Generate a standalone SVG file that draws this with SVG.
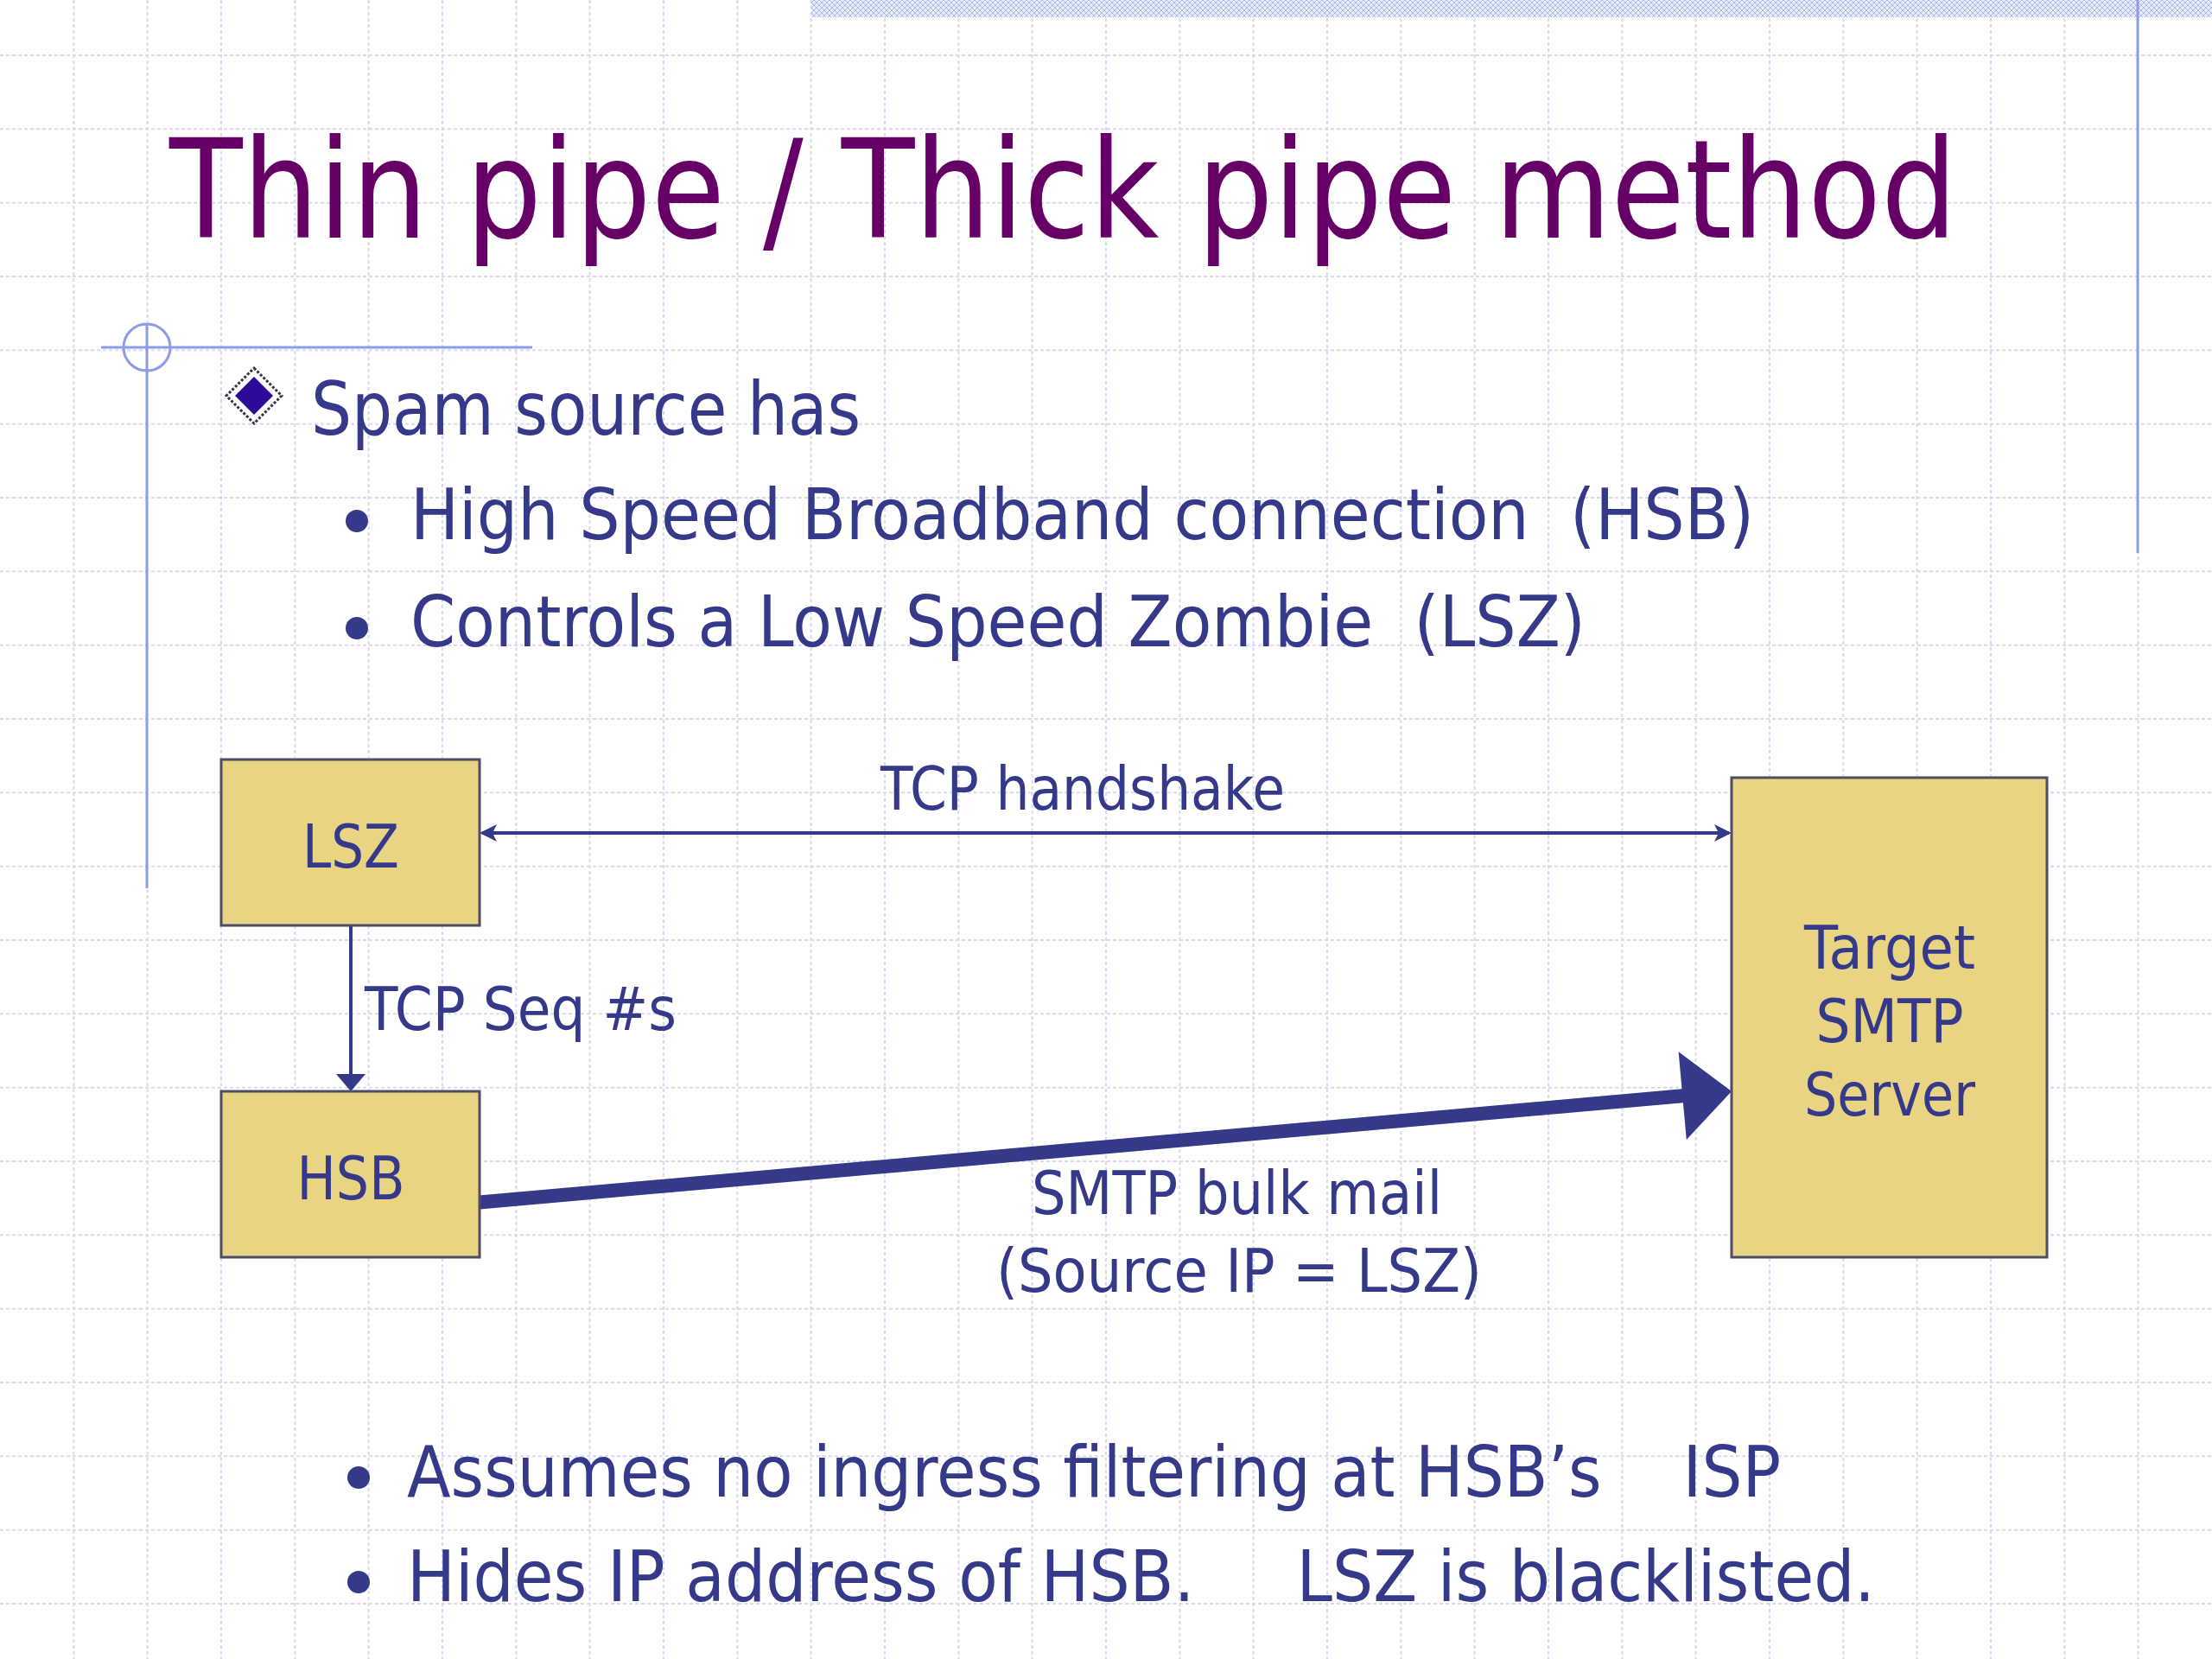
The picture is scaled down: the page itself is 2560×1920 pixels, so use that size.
<svg xmlns="http://www.w3.org/2000/svg" width="2560" height="1920" viewBox="0 0 2560 1920">
<style>
.grid{fill:none;stroke:#d6dbf2;stroke-width:2;stroke-dasharray:4 3}
.deco{fill:none;stroke:#8c9de6;stroke-width:3}
.txt{font-family:"DejaVu Sans","Liberation Sans",sans-serif;fill:#34398a}
.title{font-family:"DejaVu Sans","Liberation Sans",sans-serif;fill:#660066;font-size:158px}
.l1{font-size:86px}
.l2{font-size:82px}
.dg{font-size:70px}
.box{fill:#e8d483;stroke:#4d4d66;stroke-width:3}
.conn{fill:none;stroke:#34398a;stroke-width:4}
.dot{fill:#34398a}
</style>
<defs>
<pattern id="hatch" patternUnits="userSpaceOnUse" width="6" height="6">
<rect width="6" height="6" fill="#e6ebfa"/>
<path d="M0 0L6 6M6 0L0 6" stroke="#aebbea" stroke-width="1"/>
</pattern>
<marker id="stealth" markerUnits="userSpaceOnUse" markerWidth="22" markerHeight="22" refX="17" refY="10" orient="auto-start-reverse" viewBox="0 0 22 22">
<path d="M0 0L20 10L0 20L5 10z" fill="#34398a"/>
</marker>
<marker id="tri" markerUnits="userSpaceOnUse" markerWidth="22" markerHeight="36" refX="18" refY="17" orient="auto" viewBox="0 0 22 36">
<path d="M0 0L20 17L0 34z" fill="#34398a"/>
</marker>
</defs>
<rect width="2560" height="1920" fill="#ffffff"/>
<g id="grid">
<path class="grid" d="M85.33 0V1920M170.67 0V1920M256 0V1920M341.33 0V1920M426.67 0V1920M512 0V1920M597.33 0V1920M682.67 0V1920M768 0V1920M853.33 0V1920M938.67 0V1920M1024 0V1920M1109.33 0V1920M1194.67 0V1920M1280 0V1920M1365.33 0V1920M1450.67 0V1920M1536 0V1920M1621.33 0V1920M1706.67 0V1920M1792 0V1920M1877.33 0V1920M1962.67 0V1920M2048 0V1920M2133.33 0V1920M2218.67 0V1920M2304 0V1920M2389.33 0V1920M2474.67 0V1920"/>
<path class="grid" d="M0 64H2560M0 149.33H2560M0 234.67H2560M0 320H2560M0 405.33H2560M0 490.67H2560M0 576H2560M0 661.33H2560M0 746.67H2560M0 832H2560M0 917.33H2560M0 1002.67H2560M0 1088H2560M0 1173.33H2560M0 1258.67H2560M0 1344H2560M0 1429.33H2560M0 1514.67H2560M0 1600H2560M0 1685.33H2560M0 1770.67H2560M0 1856H2560"/>
</g>
<g id="decoration">
<rect x="939" y="0" width="1621" height="20" fill="url(#hatch)"/>
<line class="deco" x1="2474" y1="0" x2="2474" y2="640" stroke-width="2.5"/>
<line class="deco" x1="117" y1="402" x2="616" y2="402"/>
<line class="deco" x1="170" y1="375" x2="170" y2="1028"/>
<circle class="deco" cx="170" cy="402" r="27" stroke-width="2"/>
</g>
<g id="title">
<text class="title" x="196" y="275" textLength="2069" lengthAdjust="spacingAndGlyphs">Thin pipe / Thick pipe method</text>
</g>
<g id="bullets-top">
<polygon points="294,426 326,458 294,490 262,458" fill="#ffffff" stroke="#333344" stroke-width="3" stroke-dasharray="3 2"/>
<polygon points="294,436 316,458 294,480 272,458" fill="#2d0a99"/>
<text class="txt l1" x="360" y="503" textLength="636" lengthAdjust="spacingAndGlyphs">Spam source has</text>
<circle class="dot" cx="413" cy="603" r="13"/>
<text class="txt l2" x="475" y="624" textLength="1555" lengthAdjust="spacingAndGlyphs" xml:space="preserve">High Speed Broadband connection  (HSB)</text>
<circle class="dot" cx="413" cy="727" r="13"/>
<text class="txt l2" x="475" y="748" textLength="1360" lengthAdjust="spacingAndGlyphs" xml:space="preserve">Controls a Low Speed Zombie  (LSZ)</text>
</g>
<g id="connectors">
<line class="conn" x1="558" y1="964" x2="2001" y2="964" marker-start="url(#stealth)" marker-end="url(#stealth)"/>
<line class="conn" x1="406" y1="1071" x2="406" y2="1261" marker-end="url(#tri)"/>
<line x1="555" y1="1391.5" x2="1950" y2="1268" stroke="#34398a" stroke-width="16"/>
<polygon points="2004,1263 1942.6,1217.3 1951.8,1318.9" fill="#34398a"/>
<text class="txt dg" x="1019" y="937" textLength="468" lengthAdjust="spacingAndGlyphs">TCP handshake</text>
<text class="txt dg" x="422" y="1192" textLength="361" lengthAdjust="spacingAndGlyphs">TCP Seq #s</text>
<text class="txt dg" x="1194" y="1405" textLength="475" lengthAdjust="spacingAndGlyphs">SMTP bulk mail</text>
<text class="txt dg" x="1153" y="1495" textLength="562" lengthAdjust="spacingAndGlyphs">(Source IP = LSZ)</text>
</g>
<g id="node-lsz">
<rect class="box" x="256" y="879" width="299" height="192"/>
<text class="txt dg" x="406" y="1004" text-anchor="middle" textLength="112" lengthAdjust="spacingAndGlyphs">LSZ</text>
</g>
<g id="node-hsb">
<rect class="box" x="256" y="1263" width="299" height="192"/>
<text class="txt dg" x="406" y="1388" text-anchor="middle" textLength="125" lengthAdjust="spacingAndGlyphs">HSB</text>
</g>
<g id="node-target">
<rect class="box" x="2004" y="900" width="365" height="555"/>
<text class="txt dg" x="2187" y="1121" text-anchor="middle" textLength="198" lengthAdjust="spacingAndGlyphs">Target</text>
<text class="txt dg" x="2187" y="1206" text-anchor="middle" textLength="171" lengthAdjust="spacingAndGlyphs">SMTP</text>
<text class="txt dg" x="2187" y="1291" text-anchor="middle" textLength="198" lengthAdjust="spacingAndGlyphs">Server</text>
</g>
<g id="bullets-bottom">
<circle class="dot" cx="415" cy="1710" r="13"/>
<text class="txt l2" x="471" y="1732" textLength="1590" lengthAdjust="spacingAndGlyphs" xml:space="preserve">Assumes no ingress filtering at HSB’s    ISP</text>
<circle class="dot" cx="415" cy="1831" r="13"/>
<text class="txt l2" x="471" y="1853" textLength="1699" lengthAdjust="spacingAndGlyphs" xml:space="preserve">Hides IP address of HSB.     LSZ is blacklisted.</text>
</g>
</svg>
